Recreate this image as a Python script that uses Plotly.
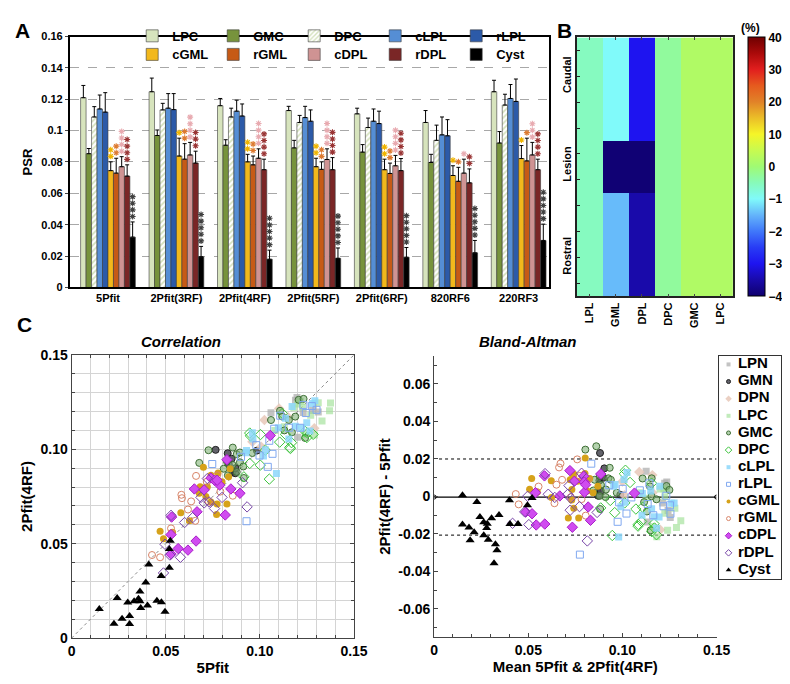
import numpy as np
import plotly.graph_objects as go

# ---------------- Panel A data ----------------
groups = ["5Pfit", "2Pfit(3RF)", "2Pfit(4RF)", "2Pfit(5RF)", "2Pfit(6RF)", "820RF6", "220RF3"]
bar_names = ["LPC", "GMC", "DPC", "cLPL", "rLPL", "cGML", "rGML", "cDPL", "rDPL", "Cyst"]

psr_LPC = [0.1210, 0.1248, 0.1159, 0.1128, 0.1107, 0.1052, 0.1248]
psr_GMC = [0.0853, 0.0969, 0.0907, 0.0890, 0.0863, 0.0797, 0.0921]
psr_DPC = [0.1087, 0.1132, 0.1087, 0.1052, 0.1020, 0.0938, 0.1163]
psr_cLPL = [0.1138, 0.1143, 0.1124, 0.1083, 0.1060, 0.0973, 0.1205]
psr_rLPL = [0.1118, 0.1134, 0.1093, 0.1060, 0.1045, 0.0967, 0.1186]
psr_cGML = [0.0745, 0.0838, 0.0801, 0.0770, 0.0751, 0.0714, 0.0822]
psr_rGML = [0.0729, 0.0818, 0.0782, 0.0753, 0.0727, 0.0677, 0.0807]
psr_cDPL = [0.0770, 0.0845, 0.0824, 0.0816, 0.0776, 0.0729, 0.0845]
psr_rDPL = [0.0710, 0.0793, 0.0751, 0.0751, 0.0745, 0.0667, 0.0751]
psr_Cyst = [0.0321, 0.0196, 0.0180, 0.0186, 0.0193, 0.0221, 0.0300]

sd_LPC = [0.0078, 0.0087, 0.0046, 0.0027, 0.0036, 0.0076, 0.0073]
sd_GMC = [0.0033, 0.0035, 0.0035, 0.0048, 0.0048, 0.0052, 0.0073]
sd_DPC = [0.0066, 0.0042, 0.0056, 0.0045, 0.0060, 0.0097, 0.0069]
sd_cLPL = [0.0089, 0.0093, 0.0070, 0.0072, 0.0078, 0.0114, 0.0089]
sd_rLPL = [0.0124, 0.0102, 0.0077, 0.0072, 0.0079, 0.0103, 0.0143]
sd_cGML = [0.0056, 0.0114, 0.0048, 0.0054, 0.0067, 0.0062, 0.0083]
sd_rGML = [0.0095, 0.0099, 0.0056, 0.0048, 0.0066, 0.0089, 0.0145]
sd_cDPL = [0.0064, 0.0080, 0.0060, 0.0068, 0.0066, 0.0089, 0.0080]
sd_rDPL = [0.0072, 0.0076, 0.0067, 0.0077, 0.0077, 0.0089, 0.0067]
sd_Cyst = [0.0097, 0.0066, 0.0058, 0.0066, 0.0062, 0.0079, 0.0104]

# number of significance asterisks per group
stars_cGML = [2, 1, 2, 2, 2, 1, 1]
stars_rGML = [2, 2, 2, 2, 2, 1, 1]
stars_cDPL = [4, 4, 4, 4, 4, 1, 3]
stars_rDPL = [4, 3, 4, 4, 4, 2, 4]
stars_Cyst = [4, 5, 5, 5, 5, 5, 5]
psr_ticks = [0, 0.02, 0.04, 0.06, 0.08, 0.1, 0.12, 0.14, 0.16]
psr_ticktext = ["0", "0.02", "0.04", "0.06", "0.08", "0.1", "0.12", "0.14", "0.16"]

# ---------------- Panel B data ----------------
hm_cols = ["LPL", "GML", "DPL", "DPC", "GMC", "LPC"]
hm_rowlabels = ["Caudal", "Lesion", "Rostral"]
hm_rowlabel_pos = [1.0, 4.45, 8.0]
hm_values = [
    [-5.5, -10, -30, -3, 2, 2],
    [-5.5, -10, -30, -3, 2, 2],
    [-5.5, -10, -30, -3, 2, 2],
    [-5.5, -10, -30, -3, 2, 2],
    [-5.5, -39.5, -39.5, -3, 2, 2],
    [-5.5, -39.5, -39.5, -3, 2, 2],
    [-5.5, -14.5, -35, -3, 2, 2],
    [-5.5, -14.5, -35, -3, 2, 2],
    [-5.5, -14.5, -35, -3, 2, 2],
    [-5.5, -14.5, -35, -3, 2, 2],
]
cbar_ticks = [-40, -30, -20, -10, 0, 10, 20, 30, 40]

# ---------------- Panel C data (5Pfit vs 2Pfit(4RF)) ----------------
LPN_5p = [0.1197, 0.1059, 0.1310, 0.1189, 0.1230, 0.1200, 0.1280]
LPN_2p = [0.1274, 0.1193, 0.1198, 0.1260, 0.1195, 0.1064, 0.1205]
GMN_5p = [0.0765, 0.0829, 0.0855, 0.0869, 0.0984, 0.0835, 0.0850, 0.0870]
GMN_2p = [0.0997, 0.0979, 0.0881, 0.0873, 0.0993, 0.0920, 0.0950, 0.0900]
DPN_5p = [0.1024, 0.1102, 0.1289, 0.1007, 0.1150, 0.0960]
DPN_2p = [0.1155, 0.1216, 0.1112, 0.1014, 0.1170, 0.1040]
LPC_5p = [0.1375, 0.1370, 0.1226, 0.1310, 0.1215, 0.1180, 0.1240, 0.1130, 0.1270, 0.1290, 0.1200, 0.1080, 0.1330]
LPC_2p = [0.1245, 0.1204, 0.1224, 0.1247, 0.1255, 0.1220, 0.1080, 0.1120, 0.1180, 0.1075, 0.1240, 0.1100, 0.1150]
GMC_5p = [0.0678, 0.0727, 0.0808, 0.0825, 0.0856, 0.0877, 0.0894, 0.0912, 0.0915, 0.0894, 0.0855, 0.0830,
          0.0877, 0.1059, 0.1119, 0.1154, 0.1206, 0.1232, 0.1240, 0.1188, 0.1107, 0.1130, 0.1170, 0.0960]
GMC_2p = [0.0928, 0.0995, 0.0897, 0.0935, 0.1009, 0.0974, 0.0931, 0.0909, 0.0848, 0.0983, 0.0917, 0.0862,
          0.0880, 0.1155, 0.1173, 0.1155, 0.1262, 0.1267, 0.1060, 0.1173, 0.1204, 0.1100, 0.1090, 0.0980]
DPC_5p = [0.0946, 0.0950, 0.1003, 0.1029, 0.1050, 0.1105, 0.1162, 0.1168, 0.1240, 0.1254, 0.1119, 0.0915,
          0.1136, 0.1159, 0.1283, 0.1249, 0.0946, 0.1002]
DPC_2p = [0.1086, 0.1071, 0.1078, 0.0995, 0.0842, 0.1038, 0.1004, 0.1035, 0.1095, 0.1086, 0.1190, 0.0854,
          0.1079, 0.1010, 0.1079, 0.1062, 0.0925, 0.0916]
cLPL_5p = [0.0963, 0.1171, 0.1292, 0.1088, 0.1098, 0.1154, 0.1188, 0.1249, 0.1266, 0.0929, 0.1029, 0.1136,
           0.1222, 0.1279, 0.0960, 0.0926, 0.1019]
cLPL_2p = [0.1054, 0.1226, 0.1257, 0.0872, 0.1114, 0.1054, 0.1122, 0.1140, 0.1097, 0.0993, 0.0998, 0.1165,
           0.1114, 0.1243, 0.1088, 0.0981, 0.0964]
rLPL_5p = [0.0747, 0.0929, 0.1067, 0.1042, 0.0998, 0.1076, 0.1154, 0.1214, 0.1244, 0.1276, 0.1301, 0.1231,
           0.1108, 0.1050, 0.0981, 0.0900]
rLPL_2p = [0.0922, 0.0619, 0.0976, 0.0907, 0.0967, 0.1109, 0.1114, 0.1114, 0.1192, 0.1229, 0.1209, 0.1235,
           0.1178, 0.1045, 0.1022, 0.0960]
cGML_5p = [0.0470, 0.0488, 0.0536, 0.0580, 0.0626, 0.0683, 0.0687, 0.0700, 0.0713, 0.0740, 0.0740, 0.0770,
           0.0773, 0.0778, 0.0799, 0.0825, 0.0834, 0.0842, 0.0678, 0.0721]
cGML_2p = [0.0566, 0.0526, 0.0560, 0.0664, 0.0621, 0.0802, 0.0785, 0.0905, 0.0750, 0.0862, 0.0721, 0.0655,
           0.0710, 0.0874, 0.0828, 0.0710, 0.0854, 0.0897, 0.0767, 0.0802]
rGML_5p = [0.0427, 0.0470, 0.0528, 0.0531, 0.0583, 0.0586, 0.0618, 0.0657, 0.0661, 0.0718, 0.0773, 0.0856,
           0.0728, 0.0635, 0.0790]
rGML_2p = [0.0440, 0.0428, 0.0581, 0.0555, 0.0759, 0.0741, 0.0681, 0.0621, 0.0859, 0.0828, 0.0862, 0.0754,
           0.0724, 0.0724, 0.0776]
cDPL_5p = [0.0528, 0.0528, 0.0566, 0.0618, 0.0661, 0.0652, 0.0666, 0.0740, 0.0759, 0.0787, 0.0816, 0.0825,
           0.0846, 0.0894, 0.1055, 0.0531, 0.0773, 0.0704]
cDPL_2p = [0.0548, 0.0445, 0.0474, 0.0466, 0.0514, 0.0790, 0.0669, 0.0848, 0.0836, 0.0810, 0.0652, 0.0945,
           0.0790, 0.0767, 0.1073, 0.0641, 0.0836, 0.0785]
rDPL_5p = [0.0488, 0.0496, 0.0522, 0.0578, 0.0600, 0.0643, 0.0687, 0.0704, 0.0730, 0.0759, 0.0799, 0.0908,
           0.0932, 0.0528, 0.0721]
rDPL_2p = [0.0345, 0.0497, 0.0440, 0.0428, 0.0612, 0.0638, 0.0745, 0.0716, 0.0721, 0.0686, 0.0745, 0.0823,
           0.0695, 0.0650, 0.0845]
Cyst_5p = [0.0147, 0.0225, 0.0242, 0.0268, 0.0298, 0.0308, 0.0308, 0.0332, 0.0355, 0.0363, 0.0363, 0.0367,
           0.0394, 0.0403, 0.0410, 0.0453, 0.0476, 0.0477, 0.0496, 0.0519, 0.0519, 0.0524]
Cyst_2p = [0.0154, 0.0076, 0.0212, 0.0102, 0.0188, 0.0117, 0.0074, 0.0195, 0.0209, 0.0195, 0.0247, 0.0160,
           0.0295, 0.0172, 0.0390, 0.0198, 0.0329, 0.0190, 0.0140, 0.0372, 0.0472, 0.0516]

ba_bias = -0.0003
ba_loa_upper = 0.0200
ba_loa_lower = -0.0206
c_ticks = [0, 0.05, 0.10, 0.15]
c_ticktext = ["0", "0.05", "0.10", "0.15"]
ba_yticks = [-0.06, -0.04, -0.02, 0, 0.02, 0.04, 0.06]
ba_yticktext = ["-0.06", "-0.04", "-0.02", "0", "0.02", "0.04", "0.06"]

# ---------------- helpers ----------------
W, H = 790, 684
FONT = "Liberation Sans"


def px_x(p):
    return p / W


def px_y(p):
    return 1 - p / H


def tf(s):
    return dict(family=FONT, size=s, color="black", weight="bold")


fig = go.Figure()

# ---------------- Panel A ----------------
bar_means = [psr_LPC, psr_GMC, psr_DPC, psr_cLPL, psr_rLPL, psr_cGML, psr_rGML, psr_cDPL, psr_rDPL, psr_Cyst]
bar_sds = [sd_LPC, sd_GMC, sd_DPC, sd_cLPL, sd_rLPL, sd_cGML, sd_rGML, sd_cDPL, sd_rDPL, sd_Cyst]
bar_colors = ["#d7e4bd", "#77933c", "#c3d69b", "#558ed5", "#2c5aa8", "#f2b81c", "#c65a16",
              "#cf9393", "#7a2626", "#000000"]
bw = 0.08
gidx = np.arange(len(groups))
for i, (name, m, s, c) in enumerate(zip(bar_names, bar_means, bar_sds, bar_colors)):
    xpos = gidx + (i - 4.5) * bw
    marker = dict(color=c, line=dict(color="#3a3a3a", width=0.6))
    if name == "DPC":
        marker = dict(color="white", line=dict(color="#3a3a3a", width=0.6),
                      pattern=dict(shape="/", fgcolor="#a9c47a", bgcolor="white", size=4, solidity=0.45))
    fig.add_trace(go.Bar(
        x=xpos, y=m, width=bw, name=name, marker=marker,
        error_y=dict(type="data", symmetric=False, array=s, arrayminus=[0] * len(s),
                     color="black", thickness=1, width=2),
        xaxis="x", yaxis="y", legend="legend" if i < 5 else "legend2",
    ))

star_sets = [("cGML", stars_cGML, "#f0b400"), ("rGML", stars_rGML, "#dd7a30"),
             ("cDPL", stars_cDPL, "#e8aab0"), ("rDPL", stars_rDPL, "#9a3535"),
             ("Cyst", stars_Cyst, "#404040")]
for name, counts, col in star_sets:
    i = bar_names.index(name)
    m = np.array(bar_means[i])
    s = np.array(bar_sds[i])
    xs, ys = [], []
    for g in range(len(groups)):
        for k in range(counts[g]):
            xs.append(g + (i - 4.5) * bw)
            ys.append(m[g] + s[g] + 0.0035 + 0.0042 * k)
    fig.add_trace(go.Scatter(
        x=xs, y=ys, mode="markers", showlegend=False, hoverinfo="skip",
        marker=dict(symbol="asterisk-open", size=5, color=col, line=dict(color=col, width=1.1)),
        xaxis="x", yaxis="y"))

# ---------------- Panel B ----------------
cscale = [
    [0.0, "rgb(15,0,110)"], [0.0625, "rgb(25,10,170)"], [0.125, "rgb(30,20,240)"],
    [0.1875, "rgb(40,60,245)"], [0.25, "rgb(64,120,250)"], [0.3125, "rgb(100,180,250)"],
    [0.375, "rgb(128,250,250)"], [0.4375, "rgb(135,250,185)"], [0.5, "rgb(160,250,115)"],
    [0.5625, "rgb(200,250,80)"], [0.625, "rgb(245,245,40)"], [0.6875, "rgb(235,190,40)"],
    [0.75, "rgb(225,130,40)"], [0.8125, "rgb(230,90,30)"], [0.875, "rgb(225,30,30)"],
    [0.9375, "rgb(170,10,10)"], [1.0, "rgb(110,0,0)"]]
fig.add_trace(go.Heatmap(
    z=hm_values, x=list(range(len(hm_cols))), y=list(range(len(hm_values))),
    colorscale=cscale, zmin=-40, zmax=40, zsmooth=False, xaxis="x2", yaxis="y2",
    colorbar=dict(x=px_x(753), xanchor="left", thickness=17, thicknessmode="pixels",
                  len=265 / H, lenmode="fraction", y=px_y(154.5), yanchor="middle",
                  tickvals=cbar_ticks, ticks="", outlinecolor="black", outlinewidth=1,
                  tickfont=tf(12), xpad=0, ypad=0),
    hoverinfo="skip"))

# ---------------- Panel C ----------------
series_c = [
    ("LPN", LPN_5p, LPN_2p, dict(symbol="square", size=7, color="rgba(175,175,175,0.75)")),
    ("GMN", GMN_5p, GMN_2p, dict(symbol="circle", size=7, color="rgba(70,70,80,0.85)",
                                 line=dict(color="#202020", width=1))),
    ("DPN", DPN_5p, DPN_2p, dict(symbol="diamond", size=8, color="rgba(232,200,185,0.85)")),
    ("LPC", LPC_5p, LPC_2p, dict(symbol="square", size=7, color="rgba(160,225,150,0.65)")),
    ("GMC", GMC_5p, GMC_2p, dict(symbol="circle", size=7, color="rgba(130,180,120,0.6)",
                                 line=dict(color="#3e6e35", width=1))),
    ("DPC", DPC_5p, DPC_2p, dict(symbol="diamond-open", size=8, color="#3cc43c", line=dict(width=1))),
    ("cLPL", cLPL_5p, cLPL_2p, dict(symbol="square", size=7, color="rgba(140,215,250,0.85)")),
    ("rLPL", rLPL_5p, rLPL_2p, dict(symbol="square-open", size=7, color="#80a8f0", line=dict(width=1))),
    ("cGML", cGML_5p, cGML_2p, dict(symbol="circle", size=7, color="#d6a21a")),
    ("rGML", rGML_5p, rGML_2p, dict(symbol="circle-open", size=7, color="#d88468", line=dict(width=1))),
    ("cDPL", cDPL_5p, cDPL_2p, dict(symbol="diamond", size=8, color="#d04cf0",
                                    line=dict(color="#a81ec8", width=1))),
    ("rDPL", rDPL_5p, rDPL_2p, dict(symbol="diamond-open", size=8, color="#7846a8", line=dict(width=1))),
    ("Cyst", Cyst_5p, Cyst_2p, dict(symbol="triangle-up", size=8, color="black")),
]

fig.add_trace(go.Scatter(x=[0, 0.15], y=[0, 0.15], mode="lines", showlegend=False,
                         line=dict(color="#8a8a8a", width=1, dash="dot"), xaxis="x3", yaxis="y3",
                         hoverinfo="skip"))
fig.add_trace(go.Scatter(x=[0, 0.15], y=[ba_bias, ba_bias], mode="lines+markers", showlegend=False,
                         line=dict(color="black", width=1.3),
                         marker=dict(symbol="circle-open", size=4, color="black"),
                         xaxis="x4", yaxis="y4", hoverinfo="skip"))
for lv in (ba_loa_upper, ba_loa_lower):
    fig.add_trace(go.Scatter(x=[0.0026, 0.15], y=[lv, lv], mode="lines", showlegend=False,
                             line=dict(color="black", width=1, dash="dot"),
                             xaxis="x4", yaxis="y4", hoverinfo="skip"))

for k, (name, a, b, mk) in enumerate(series_c):
    a = np.array(a)
    b = np.array(b)
    fig.add_trace(go.Scatter(x=a, y=b, mode="markers", marker=mk, showlegend=False,
                             xaxis="x3", yaxis="y3", name=name))
    fig.add_trace(go.Scatter(x=(a + b) / 2, y=b - a, mode="markers", marker=mk, name=name,
                             showlegend=False, xaxis="x4", yaxis="y4"))
    # legend entry drawn in a small boxed axis (row k)
    lmk = dict(mk)
    lmk["size"] = max(4, mk["size"] - 3)
    fig.add_trace(go.Scatter(x=[0.16], y=[k + 0.5], mode="markers", marker=lmk, showlegend=False,
                             xaxis="x5", yaxis="y5", hoverinfo="skip", cliponaxis=False))
    fig.add_trace(go.Scatter(x=[0.31], y=[k + 0.5], mode="text", text=[name],
                             textposition="middle right", textfont=tf(15), showlegend=False,
                             xaxis="x5", yaxis="y5", hoverinfo="skip", cliponaxis=False))

# ---------------- layout ----------------
fig.update_layout(
    width=W, height=H, autosize=False, margin=dict(l=0, r=0, t=0, b=0),
    paper_bgcolor="white", plot_bgcolor="white", barmode="overlay",
    font=dict(family=FONT, color="black"),
    xaxis=dict(domain=[px_x(59), px_x(550)], range=[-0.56, 6.45], tickvals=list(gidx),
               ticktext=groups, tickfont=tf(11), showline=True, mirror=True, linecolor="black",
               linewidth=1.5, ticks="", showgrid=False, zeroline=False, anchor="y"),
    yaxis=dict(domain=[px_y(278), px_y(21)], range=[0, 0.16], tickvals=psr_ticks, ticktext=psr_ticktext,
               tickfont=tf(11), showline=True, mirror=True, linecolor="black", linewidth=1.5,
               ticks="outside", ticklen=3, showgrid=True, gridcolor="#a8a8a8", griddash="dash",
               gridwidth=1, zeroline=False, anchor="x",
               title=dict(text="PSR", font=tf(13), standoff=6)),
    xaxis2=dict(domain=[px_x(578), px_x(738)], range=[-0.5, 5.5], tickvals=list(range(len(hm_cols))),
                ticktext=hm_cols, tickangle=-90, tickfont=tf(11), showline=True, mirror="allticks",
                linecolor="#222", linewidth=1.5, ticks="inside", ticklen=3, showgrid=False,
                zeroline=False, anchor="y2"),
    yaxis2=dict(domain=[px_y(287), px_y(22)], range=[9.5, -0.5], tickvals=hm_rowlabel_pos,
                ticktext=hm_rowlabels, tickangle=-90, tickfont=tf(11), showline=True, mirror=True,
                linecolor="#222", linewidth=1.5, ticks="", showgrid=False, zeroline=False,
                anchor="x2", minor=dict(ticks="inside", dtick=1, tick0=0, ticklen=3, tickcolor="#222")),
    xaxis3=dict(domain=[px_x(61), px_x(350)], range=[0, 0.15], tickvals=c_ticks, ticktext=c_ticktext,
                tickfont=tf(14), showline=True, mirror="allticks", linecolor="#444", linewidth=1.2,
                ticks="inside", ticklen=4, showgrid=True, gridcolor="#d4d4d4", zeroline=False,
                minor=dict(dtick=0.01, ticks="inside", ticklen=3, showgrid=True, gridcolor="#d4d4d4"),
                anchor="y3", title=dict(text="5Pfit", font=tf(15), standoff=4)),
    yaxis3=dict(domain=[px_y(637), px_y(347)], range=[0, 0.15], tickvals=c_ticks, ticktext=c_ticktext,
                tickfont=tf(14), showline=True, mirror="allticks", linecolor="#444", linewidth=1.2,
                ticks="inside", ticklen=4, showgrid=True, gridcolor="#d4d4d4", zeroline=False,
                minor=dict(dtick=0.01, ticks="inside", ticklen=3, showgrid=True, gridcolor="#d4d4d4"),
                anchor="x3", title=dict(text="2Pfit(4RF)", font=tf(15), standoff=4)),
    xaxis4=dict(domain=[px_x(432), px_x(721)], range=[0, 0.15], tickvals=c_ticks, ticktext=c_ticktext,
                tickfont=tf(14), showline=True, mirror=False, linecolor="#444", linewidth=1.2,
                ticks="inside", ticklen=4, showgrid=False, zeroline=False,
                minor=dict(dtick=0.01, ticks="inside", ticklen=3),
                anchor="y4", title=dict(text="Mean 5Pfit & 2Pfit(4RF)", font=tf(15), standoff=4)),
    yaxis4=dict(domain=[px_y(636), px_y(348)], range=[-0.075, 0.075], tickvals=ba_yticks,
                ticktext=ba_yticktext, tickfont=tf(14), showline=True, mirror=False, linecolor="#444",
                linewidth=1.2, ticks="inside", ticklen=4, showgrid=False, zeroline=False,
                minor=dict(dtick=0.01, tick0=0, ticks="inside", ticklen=3),
                anchor="x4", title=dict(text="2Pfit(4RF) - 5Pfit", font=tf(15), standoff=4)),
    xaxis5=dict(domain=[px_x(723), px_x(787)], range=[0, 1], showticklabels=False, ticks="",
                showgrid=False, zeroline=False, showline=True, mirror=True, linecolor="#333",
                linewidth=1, anchor="y5", fixedrange=True),
    yaxis5=dict(domain=[px_y(576), px_y(348)], range=[13, 0], showticklabels=False, ticks="",
                showgrid=False, zeroline=False, showline=True, mirror=True, linecolor="#333",
                linewidth=1, anchor="x5", fixedrange=True),
    legend=dict(orientation="h", x=px_x(123), y=px_y(5), xanchor="left", yanchor="top",
                entrywidth=36, entrywidthmode="pixels", itemwidth=30, font=tf(13),
                bgcolor="rgba(0,0,0,0)", tracegroupgap=0, itemclick=False),
    legend2=dict(orientation="h", x=px_x(123), y=px_y(24), xanchor="left", yanchor="top",
                 entrywidth=36, entrywidthmode="pixels", itemwidth=30, font=tf(13),
                 bgcolor="rgba(0,0,0,0)", tracegroupgap=0, itemclick=False),
    annotations=[
        dict(text="A", x=px_x(1), y=px_y(1), xref="paper", yref="paper", xanchor="left", yanchor="top",
             showarrow=False, font=tf(21)),
        dict(text="B", x=px_x(556), y=px_y(1), xref="paper", yref="paper", xanchor="left", yanchor="top",
             showarrow=False, font=tf(21)),
        dict(text="C", x=px_x(3), y=px_y(302), xref="paper", yref="paper", xanchor="left", yanchor="top",
             showarrow=False, font=tf(21)),
        dict(text="<i>Correlation</i>", x=px_x(173), y=px_y(333), xref="paper", yref="paper",
             xanchor="center", yanchor="middle", showarrow=False, font=tf(15)),
        dict(text="<i>Bland-Altman</i>", x=px_x(528), y=px_y(333), xref="paper", yref="paper",
             xanchor="center", yanchor="middle", showarrow=False, font=tf(15)),
        dict(text="(%)", x=px_x(756), y=px_y(12), xref="paper", yref="paper",
             xanchor="center", yanchor="middle", showarrow=False, font=tf(12)),
    ],
)

fig.write_html("out.html")
